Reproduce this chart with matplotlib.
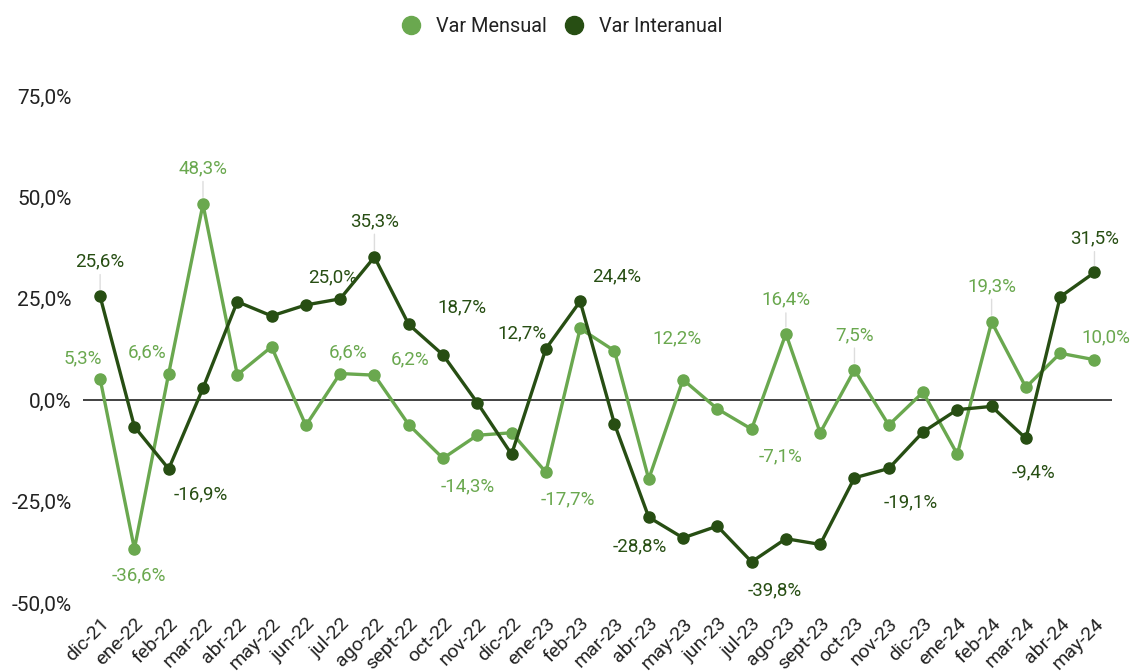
import matplotlib.pyplot as plt
from matplotlib.lines import Line2D

plt.rcParams['font.family'] = ['Roboto', 'DejaVu Sans']

meses = ["dic-21", "ene-22", "feb-22", "mar-22", "abr-22", "may-22", "jun-22", "jul-22",
         "ago-22", "sept-22", "oct-22", "nov-22", "dic-22", "ene-23", "feb-23", "mar-23",
         "abr-23", "may-23", "jun-23", "jul-23", "ago-23", "sept-23", "oct-23", "nov-23",
         "dic-23", "ene-24", "feb-24", "mar-24", "abr-24", "may-24"]

var_mensual = [5.3, -36.6, 6.6, 48.3, 6.3, 13.2, -6.2, 6.6, 6.2, -6.0, -14.3, -8.6, -8.0,
               -17.7, 17.7, 12.2, -19.4, 5.1, -2.1, -7.1, 16.4, -8.0, 7.5, -6.1, 2.0,
               -13.3, 19.3, 3.2, 11.6, 10.0]

var_interanual = [25.6, -6.5, -16.9, 3.0, 24.3, 20.8, 23.5, 25.0, 35.3, 18.7, 11.2, -0.6,
                  -13.3, 12.7, 24.4, -5.8, -28.8, -33.9, -31.0, -39.8, -34.1, -35.5, -19.1,
                  -16.8, -7.8, -2.3, -1.5, -9.4, 25.5, 31.5]

verde = "#6aa84f"
verde_osc = "#274e13"

# etiquetas visibles: indice -> (dx, dy en px, con linea guia)
etq_mensual = {0: (-17, 20, False), 1: (4, -27, False), 2: (-22, 21, False), 3: (0, 36, True),
               7: (8, 21, False), 8: (36, 16, False), 10: (25, -28, False), 13: (22, -27, False),
               15: (63, 12, False), 19: (29, -27, False), 20: (0, 34, True), 22: (0, 35, True),
               26: (0, 36, True), 29: (11, 22, False)}
etq_interanual = {0: (0, 35, True), 2: (32, -25, False), 7: (-7, 22, False), 8: (0, 36, True),
                  9: (53, 17, False), 13: (-24, 15, False), 14: (37, 25, False),
                  16: (-9, -29, False), 19: (23, -29, False), 22: (56, -25, False),
                  27: (8, -34, False), 29: (0, 34, True)}

fig = plt.figure(figsize=(11.32, 6.71), dpi=100)
ax = fig.add_axes([0.0733, 0.101, 0.9087, 0.756])

x = list(range(len(meses)))
ax.axhline(0, color="#333333", lw=1.3, zorder=1)
ax.plot(x, var_mensual, color=verde, lw=2.4, marker="o", ms=8, zorder=3)
ax.plot(x, var_interanual, color=verde_osc, lw=2.4, marker="o", ms=8, zorder=4)

px = 72 / 100
for serie, etq, col in [(var_mensual, etq_mensual, verde), (var_interanual, etq_interanual, verde_osc)]:
    for i, (dx, dy, guia) in etq.items():
        txt = f"{serie[i]:.1f}%".replace(".", ",")
        kw = {}
        if guia:
            kw["arrowprops"] = dict(arrowstyle="-", color="#dddddd", lw=1, shrinkA=1, shrinkB=5)
        ax.annotate(txt, (i, serie[i]), xytext=(dx * px, dy * px), textcoords="offset points",
                    ha="center", va="center", color=col, fontsize=13.5, zorder=5,
                    annotation_clip=False, **kw)

ax.set_xlim(-0.5, len(meses) - 0.5)
ax.set_ylim(-50, 75)
ax.set_yticks([-50, -25, 0, 25, 50, 75])
ax.set_yticklabels([f"{v:.1f}%".replace(".", ",") for v in [-50, -25, 0, 25, 50, 75]])
ax.set_xticks(x)
ax.set_xticklabels(meses, rotation=45, ha="right", rotation_mode="anchor")
ax.tick_params(axis="x", length=0, labelsize=14, colors="#222222", pad=8)
ax.tick_params(axis="y", length=0, labelsize=15, colors="#222222", pad=8)
for s in ax.spines.values():
    s.set_visible(False)

handles = [Line2D([], [], ls="", marker="o", ms=13, color=verde),
           Line2D([], [], ls="", marker="o", ms=13, color=verde_osc)]
leg = fig.legend(handles, ["Var Mensual", "Var Interanual"], loc="center", ncol=2,
                 bbox_to_anchor=(0.492, 0.96), frameon=False, fontsize=14.3,
                 handletextpad=0.25, columnspacing=0.4)
for t in leg.get_texts():
    t.set_color("#222222")

fig.savefig("out.png", dpi=100)
